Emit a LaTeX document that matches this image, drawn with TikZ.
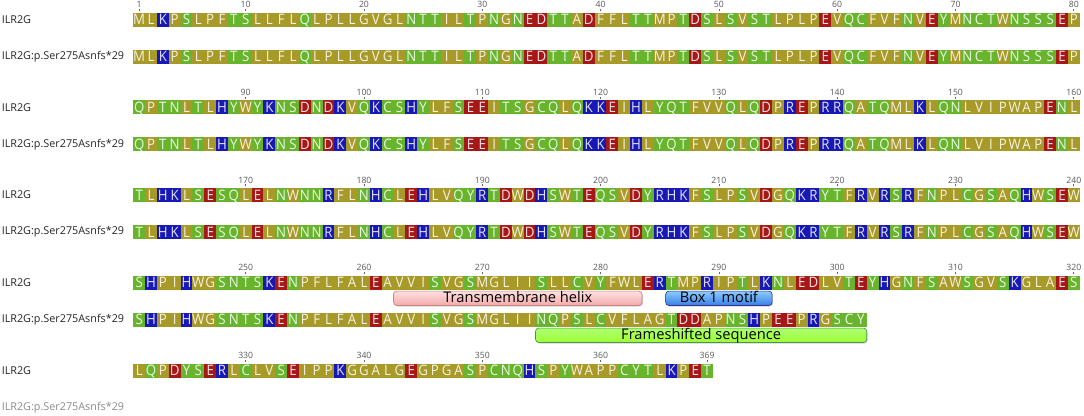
\documentclass[tikz,border=0pt]{standalone}
\usepackage{fontspec}
\setmainfont{Open Sans}
\newfontfamily\resfont[FakeStretch=.92]{Open Sans}
\usetikzlibrary{shadows}
\definecolor{hydro}{RGB}{168,154,40}
\definecolor{polar}{RGB}{104,180,44}
\definecolor{basic}{RGB}{24,24,180}
\definecolor{acidic}{RGB}{166,24,24}
% wild type ILR2G, 369 residues
\def\wtseq{M,L,K,P,S,L,P,F,T,S,L,L,F,L,Q,L,P,L,L,G,V,G,L,N,T,T,I,L,T,P,N,G,N,E,D,T,T,A,D,F,%
F,L,T,T,M,P,T,D,S,L,S,V,S,T,L,P,L,P,E,V,Q,C,F,V,F,N,V,E,Y,M,N,C,T,W,N,S,S,S,E,P,%
Q,P,T,N,L,T,L,H,Y,W,Y,K,N,S,D,N,D,K,V,Q,K,C,S,H,Y,L,F,S,E,E,I,T,S,G,C,Q,L,Q,K,K,%
E,I,H,L,Y,Q,T,F,V,V,Q,L,Q,D,P,R,E,P,R,R,Q,A,T,Q,M,L,K,L,Q,N,L,V,I,P,W,A,P,E,N,L,%
T,L,H,K,L,S,E,S,Q,L,E,L,N,W,N,N,R,F,L,N,H,C,L,E,H,L,V,Q,Y,R,T,D,W,D,H,S,W,T,E,Q,%
S,V,D,Y,R,H,K,F,S,L,P,S,V,D,G,Q,K,R,Y,T,F,R,V,R,S,R,F,N,P,L,C,G,S,A,Q,H,W,S,E,W,%
S,H,P,I,H,W,G,S,N,T,S,K,E,N,P,F,L,F,A,L,E,A,V,V,I,S,V,G,S,M,G,L,I,I,S,L,L,C,V,Y,%
F,W,L,E,R,T,M,P,R,I,P,T,L,K,N,L,E,D,L,V,T,E,Y,H,G,N,F,S,A,W,S,G,V,S,K,G,L,A,E,S,%
L,Q,P,D,Y,S,E,R,L,C,L,V,S,E,I,P,P,K,G,G,A,L,G,E,G,P,G,A,S,P,C,N,Q,H,S,P,Y,W,A,P,%
P,C,Y,T,L,K,P,E,T}
% frameshifted tail from 275
\def\fsseq{N,Q,P,S,L,C,V,F,L,A,G,T,D,D,A,P,N,S,H,P,E,E,P,R,G,S,C,Y}
\begin{document}
\begin{tikzpicture}[x=0.75pt,y=-0.75pt,
  res/.style={inner sep=0pt,minimum width=8.95pt,minimum height=10.5pt,text height=7.7pt,text depth=0pt,
    text=white,text opacity=.88,font=\resfont\fontsize{10.8}{10.8}\selectfont},
  hyd/.style={res,fill=hydro}, pol/.style={res,fill=polar},
  bas/.style={res,fill=basic}, aci/.style={res,fill=acidic},
  aaA/.style=hyd, aaV/.style=hyd, aaL/.style=hyd, aaI/.style=hyd, aaP/.style=hyd,
  aaF/.style=hyd, aaM/.style=hyd, aaW/.style=hyd, aaG/.style=hyd,
  aaS/.style=pol, aaT/.style=pol, aaN/.style=pol, aaQ/.style=pol, aaC/.style=pol, aaY/.style=pol,
  aaK/.style=bas, aaR/.style=bas, aaH/.style=bas,
  aaD/.style=aci, aaE/.style=aci,
  seqlab/.style={anchor=west,inner sep=0pt,font=\fontsize{8.1}{8.1}\selectfont,text=black!85},
  ticklab/.style={inner sep=.5pt,font=\fontsize{6.5}{6.5}\selectfont,text=black!65},
  tickmk/.style={black!60,line width=.5pt},
  feat/.style={draw,rounded corners=2.5pt,inner sep=0pt,line width=.5pt,minimum height=10.8pt,
    text height=7.6pt,text depth=1.7pt,font=\fontsize{11}{11}\selectfont,
    drop shadow={shadow xshift=.6pt,shadow yshift=-.8pt,opacity=.35}},
  tmfeat/.style={feat,draw=black!40!red!50!white,top color=red!12,bottom color=red!30!white!95!black},
  boxfeat/.style={feat,draw=blue!50!black!80,top color=blue!45!cyan!45!white,bottom color=blue!60!cyan!75!white!90!black},
  fsfeat/.style={feat,draw=green!40!black!70,top color=lime!55!green!55!white,bottom color=lime!70!green!80!white}]
\fill[white] (0,0) rectangle (1084,415);
\useasboundingbox (0,0) rectangle (1084,415);
%Row labels
\foreach \r in {0,...,4}
  \node[seqlab] (wt\r) at (1.5,{19.5+87.75*\r}) {ILR2G};
\foreach \r in {0,...,3}
  \node[seqlab] (mt\r) at (1.5,{56.5+87.75*\r}) {ILR2G:p.Ser275Asnfs*29};
\node[seqlab,text=black!45] (mt4) at (1.5,{56.5+87.75*4}) {ILR2G:p.Ser275Asnfs*29};
%Wild type sequence
\foreach \a [count=\i] in \wtseq {
  \pgfmathtruncatemacro\row{(\i-1)/80}
  \pgfmathtruncatemacro\col{mod(\i-1,80)}
  \node[aa\a] (r\i) at ({133.3+11.83*(\col+.5)},{19.5+87.75*\row}) {\a};
}
%Mutant sequence, same up to 274
\foreach \a [count=\i] in \wtseq {
  \ifnum\i<275
  \pgfmathtruncatemacro\row{(\i-1)/80}
  \pgfmathtruncatemacro\col{mod(\i-1,80)}
  \node[aa\a] (m\i) at ({133.3+11.83*(\col+.5)},{56.5+87.75*\row}) {\a};
  \fi
}
\foreach \a [count=\i from 275] in \fsseq {
  \pgfmathtruncatemacro\col{mod(\i-1,80)}
  \node[aa\a] (m\i) at ({133.3+11.83*(\col+.5)},{56.5+87.75*3}) {\a};
}
%Ruler
\foreach \t in {1,10,20,...,360,369}
  \draw[tickmk] ([yshift=1pt]r\t.north) -- ([yshift=2.6pt]r\t.north) node[ticklab,above] (n\t) {\t};
%Annotations
\coordinate (tmA) at ([yshift=-6.2pt]r263.south west);
\coordinate (tmB) at ([yshift=-6.2pt]r283.south east);
\path (tmA) -- (tmB) node[tmfeat,midway,minimum width=186.4pt] (tm) {Transmembrane helix};
\coordinate (bxA) at ([yshift=-6.2pt]r286.south west);
\coordinate (bxB) at ([yshift=-6.2pt]r294.south east);
\path (bxA) -- (bxB) node[boxfeat,midway,minimum width=79.9pt] (box1) {Box 1 motif};
\coordinate (fsA) at ([yshift=-6.2pt]m275.south west);
\coordinate (fsB) at ([yshift=-6.2pt]m302.south east);
\path (fsA) -- (fsB) node[fsfeat,midway,minimum width=248.5pt] (fs) {Frameshifted sequence};
\end{tikzpicture}
\end{document}
